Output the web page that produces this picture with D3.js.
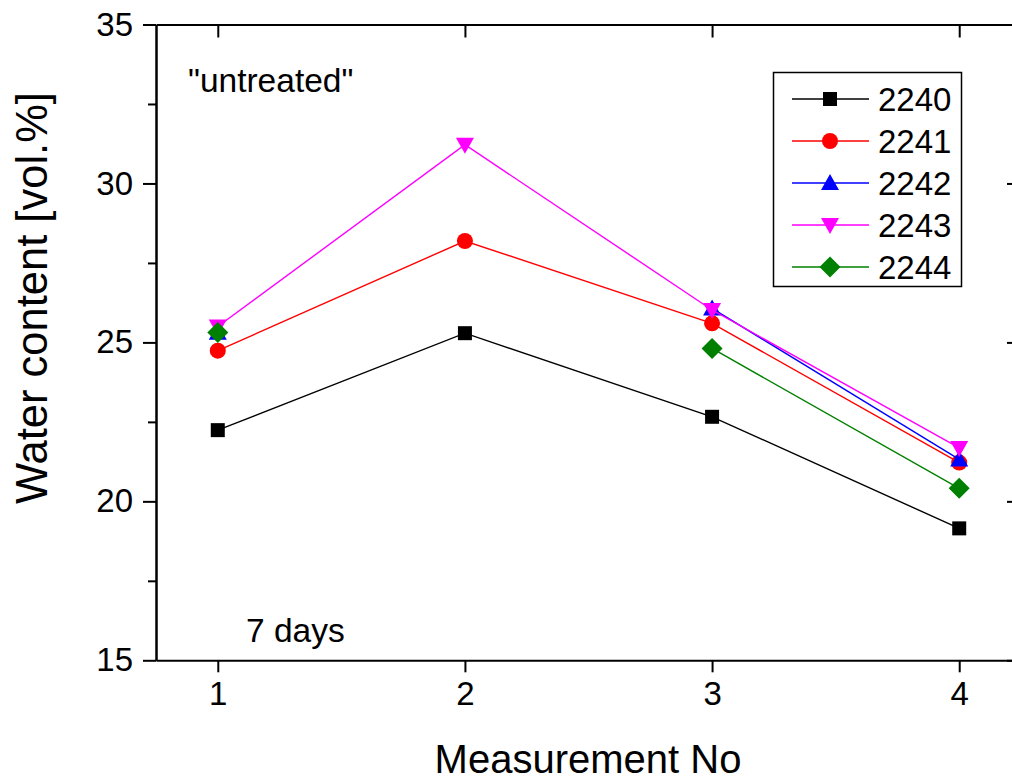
<!DOCTYPE html>
<html>
<head>
<meta charset="utf-8">
<script src="https://cdn.jsdelivr.net/npm/d3@7"></script>
<style>
  html, body { margin: 0; padding: 0; background: #fff; }
  svg { display: block; font-family: "Liberation Sans", Arial, sans-serif; }
</style>
</head>
<body>
<svg id="chart" width="1012" height="777"></svg>
<script>
// Measurement numbers along the x axis
const measurements = [1, 2, 3, 4];
// Water content [vol.%] per specimen; null where no reading was taken
const s2240 = [22.24, 25.29, 22.66, 19.15];
const s2241 = [24.74, 28.19, 25.60, 21.22];
const s2242 = [25.30, null, 26.07, 21.32];
const s2243 = [25.50, 31.22, 26.02, 21.68];
const s2244 = [25.31, null, 24.81, 20.41];
const seriesNames = ["2240", "2241", "2242", "2243", "2244"];
const xTicks = [1, 2, 3, 4];
const yTicks = [15, 20, 25, 30, 35];
const yMinorTicks = [17.5, 22.5, 27.5, 32.5];

const series = [
  { name: seriesNames[0], values: s2240, color: "#000000", shape: "square" },
  { name: seriesNames[1], values: s2241, color: "#ff0000", shape: "circle" },
  { name: seriesNames[2], values: s2242, color: "#0000ff", shape: "triUp" },
  { name: seriesNames[3], values: s2243, color: "#ff00ff", shape: "triDown" },
  { name: seriesNames[4], values: s2244, color: "#008000", shape: "diamond" }
];

const svg = d3.select("#chart");
const plotLeft = 156, plotRight = 1021, plotTop = 24.5, plotBottom = 660.3;

const x = d3.scaleLinear().domain([0.75, 4.25]).range([plotLeft, plotRight]);
const y = d3.scaleLinear().domain([15, 35]).range([plotBottom, plotTop]);

// Marker outlines centred on (0,0)
function markerPath(shape) {
  switch (shape) {
    case "square": return "M-7,-7H7V7H-7Z";
    case "circle": return "M-8,0A8,8 0 1,0 8,0A8,8 0 1,0 -8,0Z";
    case "triUp": return "M0,-9L9,7L-9,7Z";
    case "triDown": return "M0,9L9,-7L-9,-7Z";
    case "diamond": return "M0,-10.5L10.5,0L0,10.5L-10.5,0Z";
  }
}

const axisStyle = g => {
  g.select(".domain").attr("stroke", "#000").attr("stroke-width", 2);
  g.selectAll(".tick line").attr("stroke", "#000").attr("stroke-width", 2);
  g.selectAll(".tick text").attr("fill", "#000").attr("font-size", 33)
    .attr("font-family", "'Liberation Sans', Arial, sans-serif");
};

// Bottom axis
svg.append("g")
  .attr("transform", `translate(0,${plotBottom})`)
  .call(d3.axisBottom(x).tickValues(xTicks).tickFormat(d3.format("d"))
    .tickSizeInner(12).tickSizeOuter(0).tickPadding(9))
  .call(axisStyle);

// Top axis (ticks only, pointing inward)
svg.append("g")
  .attr("transform", `translate(0,${plotTop})`)
  .call(d3.axisTop(x).tickValues(xTicks).tickFormat("")
    .tickSizeInner(-13).tickSizeOuter(0))
  .call(axisStyle);

// Left axis with minor ticks
svg.append("g")
  .attr("transform", `translate(${plotLeft},0)`)
  .call(d3.axisLeft(y).tickValues(yMinorTicks).tickFormat("")
    .tickSizeInner(8).tickSizeOuter(0))
  .call(axisStyle);
svg.append("g")
  .attr("transform", `translate(${plotLeft},0)`)
  .call(d3.axisLeft(y).tickValues(yTicks).tickFormat(d3.format("d"))
    .tickSizeInner(13).tickSizeOuter(0).tickPadding(10))
  .call(axisStyle);

// Right axis (ticks pointing inward)
svg.append("g")
  .attr("transform", `translate(${plotRight},0)`)
  .call(d3.axisRight(y).tickValues(yTicks).tickFormat("")
    .tickSizeInner(-14).tickSizeOuter(0))
  .call(axisStyle);

// Axis titles
svg.append("text")
  .attr("x", 588).attr("y", 773)
  .attr("text-anchor", "middle")
  .attr("font-size", 40)
  .text("Measurement No");

svg.append("text")
  .attr("transform", "translate(47,298) rotate(-90)")
  .attr("text-anchor", "middle")
  .attr("font-size", 43.5)
  .text("Water content [vol.%]");

// Annotations
svg.append("text").attr("x", 188).attr("y", 92)
  .attr("font-size", 33.5).text("\"untreated\"");
svg.append("text").attr("x", 246).attr("y", 642)
  .attr("font-size", 33.5).text("7 days");

// Series lines and markers
const line = d3.line()
  .defined(d => d.v !== null)
  .x(d => x(d.m))
  .y(d => y(d.v));

const plot = svg.append("g");
series.forEach(s => {
  const pts = measurements.map((m, i) => ({ m, v: s.values[i] }));
  const g = plot.append("g");
  g.append("path")
    .datum(pts)
    .attr("fill", "none")
    .attr("stroke", s.color)
    .attr("stroke-width", 1.4)
    .attr("d", line);
  g.selectAll("path.marker")
    .data(pts.filter(d => d.v !== null))
    .join("path")
    .attr("class", "marker")
    .attr("transform", d => `translate(${x(d.m)},${y(d.v)})`)
    .attr("d", markerPath(s.shape))
    .attr("fill", s.color);
});

// Legend
const legend = svg.append("g");
legend.append("rect")
  .attr("x", 773.5).attr("y", 72.5)
  .attr("width", 188).attr("height", 214)
  .attr("fill", "#fff").attr("stroke", "#000").attr("stroke-width", 1.5);
series.forEach((s, i) => {
  const cy = 99 + i * 42;
  legend.append("line")
    .attr("x1", 792).attr("x2", 869)
    .attr("y1", cy).attr("y2", cy)
    .attr("stroke", s.color).attr("stroke-width", 1.4);
  legend.append("path")
    .attr("transform", `translate(830,${cy})`)
    .attr("d", markerPath(s.shape))
    .attr("fill", s.color);
  legend.append("text")
    .attr("x", 878).attr("y", cy + 12)
    .attr("font-size", 33)
    .text(s.name);
});
</script>
</body>
</html>
